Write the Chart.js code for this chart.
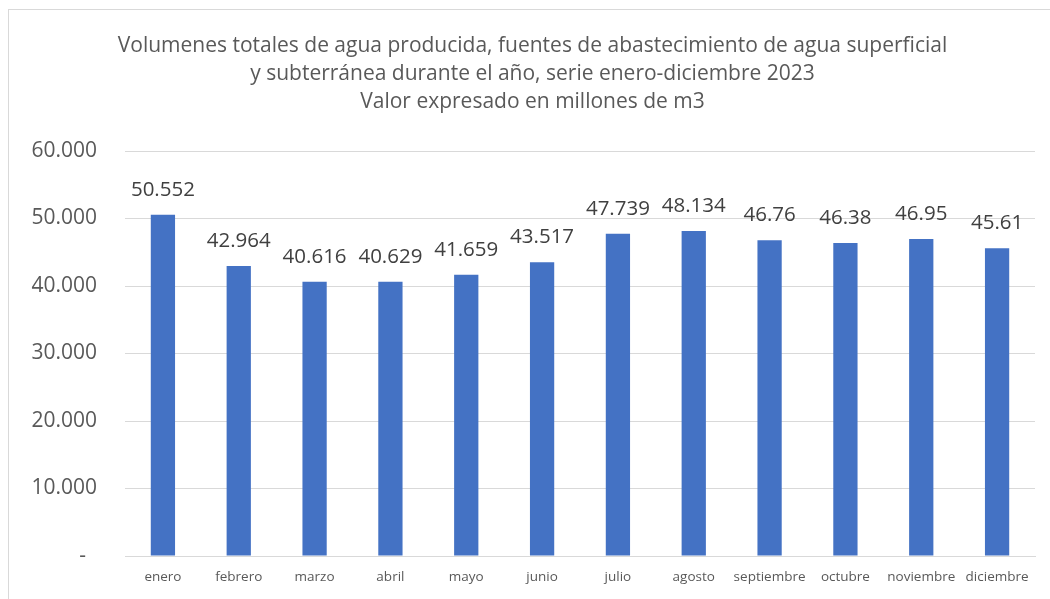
<!DOCTYPE html>
<html>
<head>
<meta charset="utf-8">
<script src="https://cdn.jsdelivr.net/npm/chart.js@4.4.0/dist/chart.umd.min.js"></script>
<style>
  html, body { margin: 0; padding: 0; background: #fff; overflow: hidden; }
  #wrap { position: relative; width: 1050px; height: 599px; }
  #frame { position: absolute; left: 8px; top: 9px; width: 1060px; height: 610px; border: 1px solid #d9d9d9; box-sizing: border-box; pointer-events: none; }
  canvas { position: absolute; left: 0; top: 0; }
</style>
</head>
<body>
<div id="wrap">
  <canvas id="chart" width="1050" height="599"></canvas>
  <div id="frame"></div>
</div>
<script>
const months = ['enero', 'febrero', 'marzo', 'abril', 'mayo', 'junio', 'julio', 'agosto', 'septiembre', 'octubre', 'noviembre', 'diciembre'];
const volumes = [50.552, 42.964, 40.616, 40.629, 41.659, 43.517, 47.739, 48.134, 46.76, 46.38, 46.95, 45.61];
const titleLines = [
    'Volumenes totales de agua producida, fuentes de abastecimiento de agua superficial',
    'y subterránea durante el año, serie enero-diciembre 2023',
    'Valor expresado en millones de m3'
];

const barColor = '#4472C4';
const fontName = '"Open Sans", Lato, sans-serif';

// value labels above the bars (no datalabels plugin available offline)
const valueLabels = {
    id: 'valueLabels',
    afterDatasetsDraw(chart) {
        const ctx = chart.ctx;
        const meta = chart.getDatasetMeta(0);
        ctx.save();
        ctx.fillStyle = '#404040';
        ctx.font = '20.5px ' + fontName;
        ctx.textAlign = 'center';
        ctx.textBaseline = 'middle';
        meta.data.forEach((bar, i) => {
            ctx.fillText(String(volumes[i]), bar.x, bar.y - 25);
        });
        ctx.restore();
    }
};

new Chart(document.getElementById('chart'), {
    type: 'bar',
    data: {
        labels: months,
        datasets: [{
            data: volumes,
            backgroundColor: barColor,
            barPercentage: 0.32,
            categoryPercentage: 1
        }]
    },
    options: {
        responsive: false,
        animation: false,
        layout: { padding: { left: 30, right: 15, top: 0, bottom: 0 } },
        plugins: {
            legend: { display: false },
            tooltip: { enabled: false },
            title: {
                display: true,
                text: titleLines,
                color: '#595959',
                font: { family: fontName, size: 21, weight: 'normal', lineHeight: 28 / 21 },
                padding: { top: 32, bottom: 35 }
            }
        },
        scales: {
            x: {
                grid: { display: false, drawTicks: false },
                border: { color: '#d9d9d9', width: 1 },
                ticks: { color: '#595959', font: { family: fontName, size: 13.5 }, padding: 13, maxRotation: 0, autoSkip: false },
                afterFit: (scale) => { scale.height = 43; }
            },
            y: {
                min: 0,
                max: 60,
                grid: { color: '#d9d9d9', lineWidth: 1, drawTicks: false },
                border: { display: false },
                ticks: {
                    stepSize: 10,
                    color: '#595959',
                    font: { family: fontName, size: 21 },
                    padding: 28,
                    callback: (v) => v === 0 ? '-  ' : v.toFixed(3)
                },
                afterFit: (scale) => { scale.width = 95; }
            }
        }
    },
    plugins: [valueLabels]
});
</script>
</body>
</html>
